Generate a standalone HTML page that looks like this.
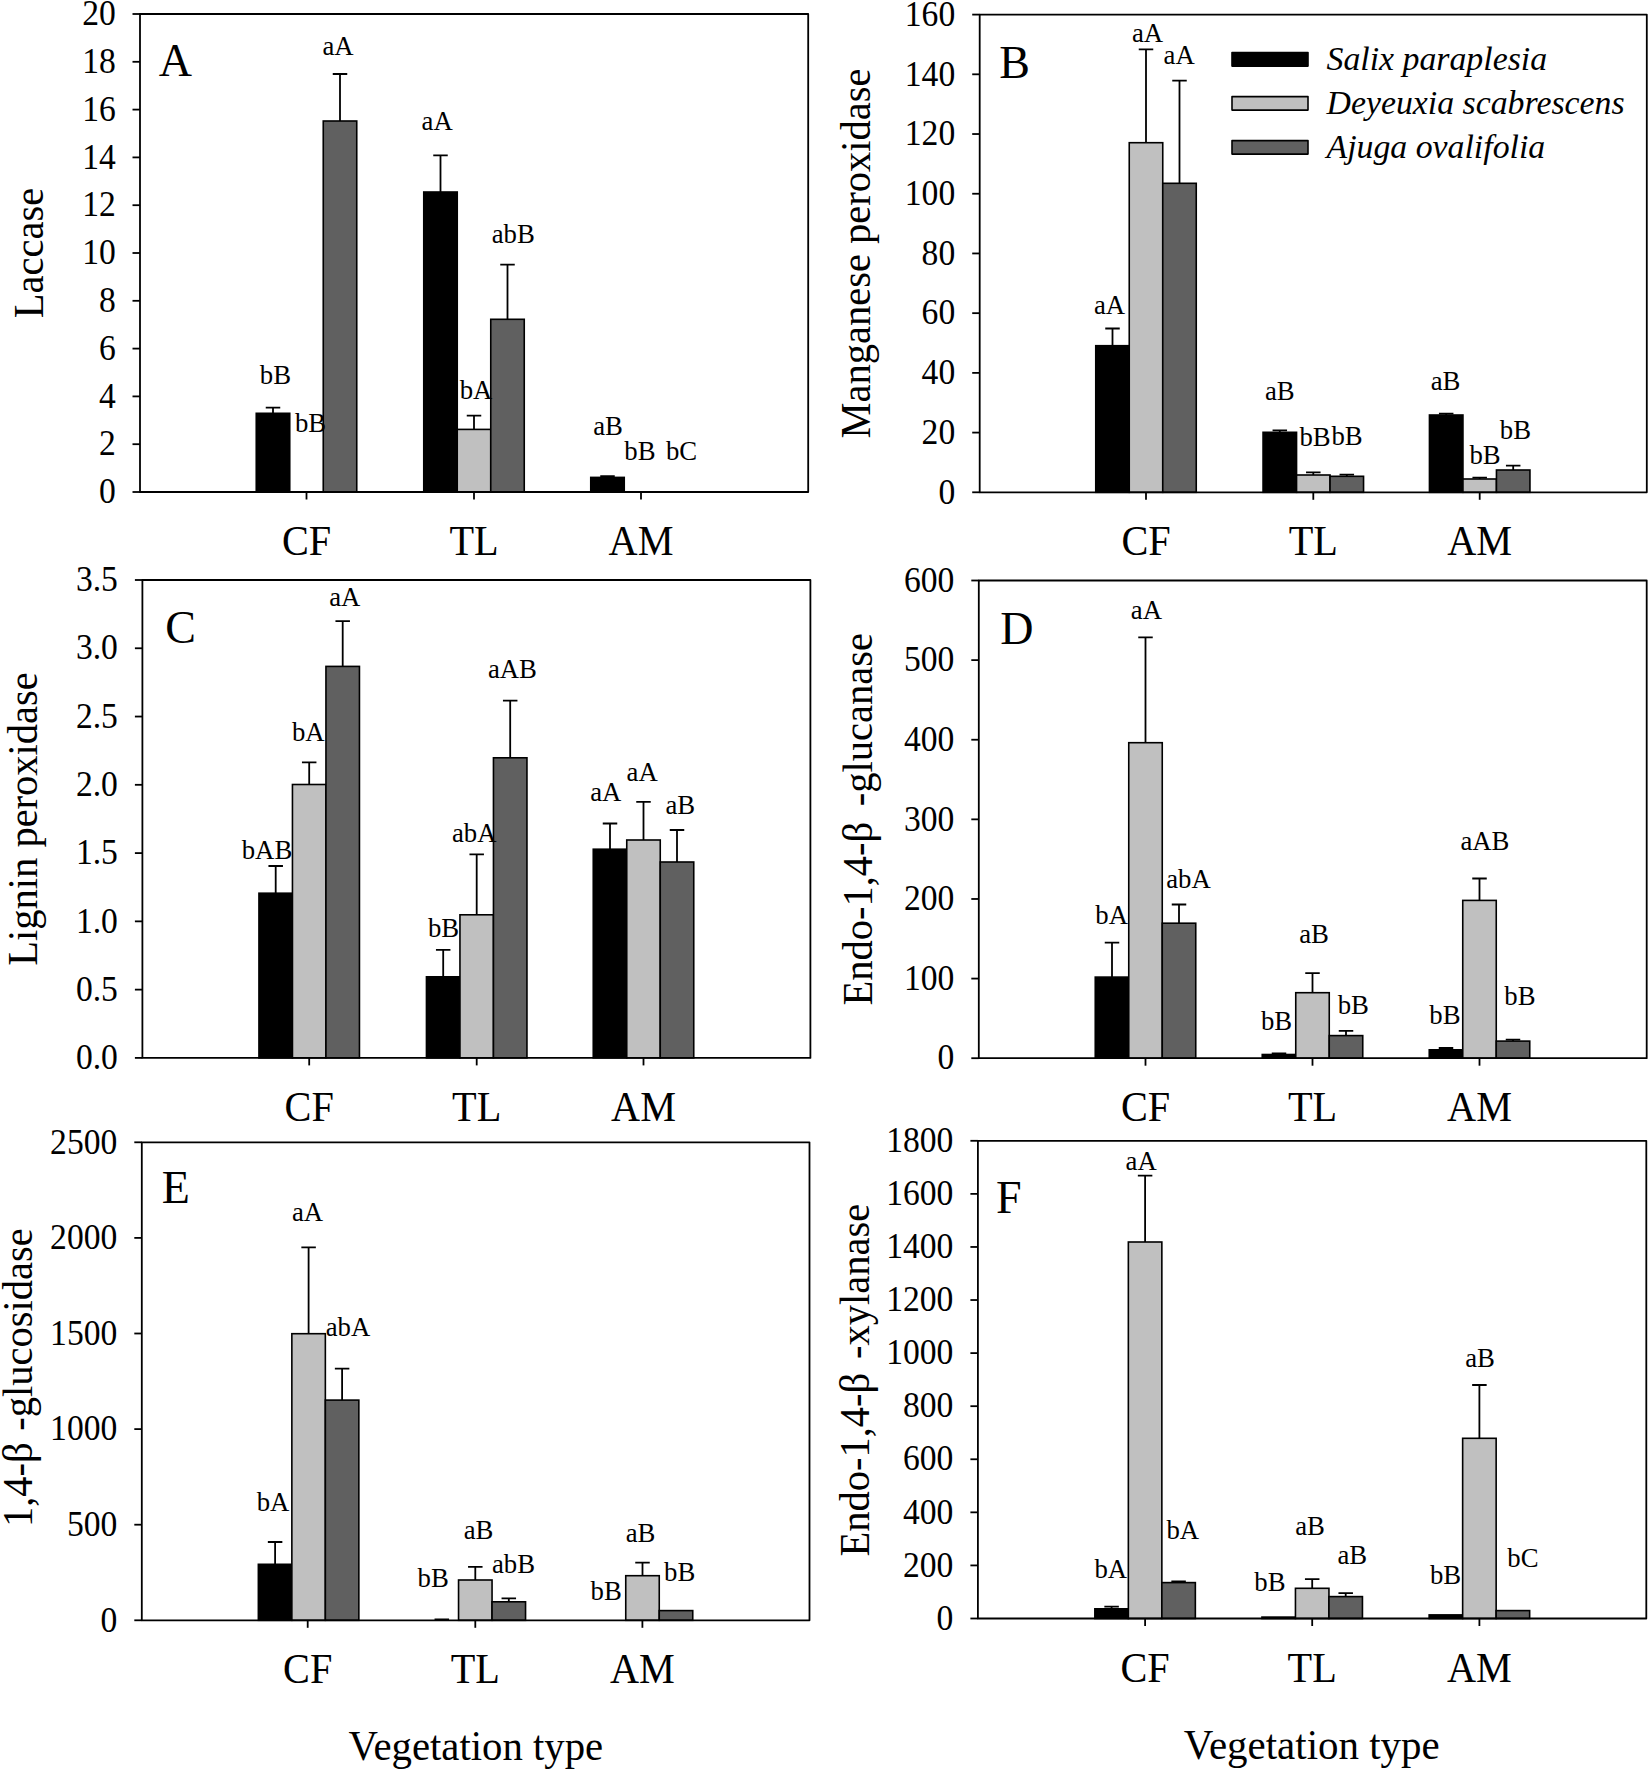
<!DOCTYPE html>
<html lang="en">
<head>
<meta charset="utf-8">
<title>Enzyme activities by vegetation type</title>
<style>
html,body{margin:0;padding:0;background:#fff;}
body{width:1650px;height:1771px;overflow:hidden;}
svg{display:block;}
svg text{font-family:"Liberation Serif",serif;fill:#000;}
</style>
</head>
<body>
<svg width="1650" height="1771" viewBox="0 0 1650 1771">
<rect x="0" y="0" width="1650" height="1771" fill="#fff"/>
<g id="panelA">
<path d="M273 413.3V407.7M265.75 407.7H280.25" stroke="#000" stroke-width="1.8" fill="none"/>
<rect x="256.25" y="413.3" width="33.5" height="78.7" fill="#000000" stroke="#000" stroke-width="1.6"/>
<path d="M340 121V74M332.75 74H347.25" stroke="#000" stroke-width="1.8" fill="none"/>
<rect x="323.25" y="121" width="33.5" height="371" fill="#606060" stroke="#000" stroke-width="1.6"/>
<path d="M440.5 192V155.3M433.25 155.3H447.75" stroke="#000" stroke-width="1.8" fill="none"/>
<rect x="423.75" y="192" width="33.5" height="300" fill="#000000" stroke="#000" stroke-width="1.6"/>
<path d="M474 429.4V415.6M466.75 415.6H481.25" stroke="#000" stroke-width="1.8" fill="none"/>
<rect x="457.25" y="429.4" width="33.5" height="62.6" fill="#c0c0c0" stroke="#000" stroke-width="1.6"/>
<path d="M507.5 319.3V264.7M500.25 264.7H514.75" stroke="#000" stroke-width="1.8" fill="none"/>
<rect x="490.75" y="319.3" width="33.5" height="172.7" fill="#606060" stroke="#000" stroke-width="1.6"/>
<path d="M607.5 477.4V476.2M600.25 476.2H614.75" stroke="#000" stroke-width="1.8" fill="none"/>
<rect x="590.75" y="477.4" width="33.5" height="14.6" fill="#000000" stroke="#000" stroke-width="1.6"/>
<rect x="140" y="14" width="668.2" height="478" fill="none" stroke="#000" stroke-width="1.8" stroke-linejoin="round"/>
<line x1="132.5" y1="492" x2="140" y2="492" stroke="#000" stroke-width="1.8"/>
<text transform="translate(115.8 503.2) scale(0.96 1)" font-size="35" text-anchor="end">0</text>
<line x1="132.5" y1="444.2" x2="140" y2="444.2" stroke="#000" stroke-width="1.8"/>
<text transform="translate(115.8 455.4) scale(0.96 1)" font-size="35" text-anchor="end">2</text>
<line x1="132.5" y1="396.4" x2="140" y2="396.4" stroke="#000" stroke-width="1.8"/>
<text transform="translate(115.8 407.6) scale(0.96 1)" font-size="35" text-anchor="end">4</text>
<line x1="132.5" y1="348.6" x2="140" y2="348.6" stroke="#000" stroke-width="1.8"/>
<text transform="translate(115.8 359.8) scale(0.96 1)" font-size="35" text-anchor="end">6</text>
<line x1="132.5" y1="300.8" x2="140" y2="300.8" stroke="#000" stroke-width="1.8"/>
<text transform="translate(115.8 312) scale(0.96 1)" font-size="35" text-anchor="end">8</text>
<line x1="132.5" y1="253" x2="140" y2="253" stroke="#000" stroke-width="1.8"/>
<text transform="translate(115.8 264.2) scale(0.96 1)" font-size="35" text-anchor="end">10</text>
<line x1="132.5" y1="205.2" x2="140" y2="205.2" stroke="#000" stroke-width="1.8"/>
<text transform="translate(115.8 216.4) scale(0.96 1)" font-size="35" text-anchor="end">12</text>
<line x1="132.5" y1="157.4" x2="140" y2="157.4" stroke="#000" stroke-width="1.8"/>
<text transform="translate(115.8 168.6) scale(0.96 1)" font-size="35" text-anchor="end">14</text>
<line x1="132.5" y1="109.6" x2="140" y2="109.6" stroke="#000" stroke-width="1.8"/>
<text transform="translate(115.8 120.8) scale(0.96 1)" font-size="35" text-anchor="end">16</text>
<line x1="132.5" y1="61.8" x2="140" y2="61.8" stroke="#000" stroke-width="1.8"/>
<text transform="translate(115.8 73) scale(0.96 1)" font-size="35" text-anchor="end">18</text>
<line x1="132.5" y1="14" x2="140" y2="14" stroke="#000" stroke-width="1.8"/>
<text transform="translate(115.8 25.2) scale(0.96 1)" font-size="35" text-anchor="end">20</text>
<line x1="306.5" y1="492" x2="306.5" y2="499.5" stroke="#000" stroke-width="1.8"/>
<text transform="translate(306.5 555) scale(0.968 1)" font-size="41.6" text-anchor="middle">CF</text>
<line x1="474" y1="492" x2="474" y2="499.5" stroke="#000" stroke-width="1.8"/>
<text transform="translate(474 555) scale(0.968 1)" font-size="41.6" text-anchor="middle">TL</text>
<line x1="641" y1="492" x2="641" y2="499.5" stroke="#000" stroke-width="1.8"/>
<text transform="translate(641 555) scale(0.968 1)" font-size="41.6" text-anchor="middle">AM</text>
<text transform="translate(43 253) rotate(-90) scale(1 1.03)" font-size="40.5" text-anchor="middle">Laccase</text>
<text x="158.7" y="76" font-size="46">A</text>
<text transform="translate(275.4 384.4) scale(0.99 1)" font-size="27" text-anchor="middle">bB</text>
<text transform="translate(310.6 431.7) scale(0.99 1)" font-size="27" text-anchor="middle">bB</text>
<text transform="translate(338 55.4) scale(0.99 1)" font-size="27" text-anchor="middle">aA</text>
<text transform="translate(437.2 130.4) scale(0.99 1)" font-size="27" text-anchor="middle">aA</text>
<text transform="translate(476 399.4) scale(0.99 1)" font-size="27" text-anchor="middle">bA</text>
<text transform="translate(513.2 243.1) scale(0.99 1)" font-size="27" text-anchor="middle">abB</text>
<text transform="translate(608 435.3) scale(0.99 1)" font-size="27" text-anchor="middle">aB</text>
<text transform="translate(639.9 459.5) scale(0.99 1)" font-size="27" text-anchor="middle">bB</text>
<text transform="translate(681.5 460) scale(0.99 1)" font-size="27" text-anchor="middle">bC</text>
</g>
<g id="panelB">
<path d="M1112.5 345.7V328.5M1105.25 328.5H1119.75" stroke="#000" stroke-width="1.8" fill="none"/>
<rect x="1095.75" y="345.7" width="33.5" height="146.6" fill="#000000" stroke="#000" stroke-width="1.6"/>
<path d="M1146 142.7V49.3M1138.75 49.3H1153.25" stroke="#000" stroke-width="1.8" fill="none"/>
<rect x="1129.25" y="142.7" width="33.5" height="349.6" fill="#c0c0c0" stroke="#000" stroke-width="1.6"/>
<path d="M1179.5 183.3V80.7M1172.25 80.7H1186.75" stroke="#000" stroke-width="1.8" fill="none"/>
<rect x="1162.75" y="183.3" width="33.5" height="309" fill="#606060" stroke="#000" stroke-width="1.6"/>
<path d="M1279.8 432.3V430.3M1272.55 430.3H1287.05" stroke="#000" stroke-width="1.8" fill="none"/>
<rect x="1263.05" y="432.3" width="33.5" height="60" fill="#000000" stroke="#000" stroke-width="1.6"/>
<path d="M1313.3 475V472.3M1306.05 472.3H1320.55" stroke="#000" stroke-width="1.8" fill="none"/>
<rect x="1296.55" y="475" width="33.5" height="17.3" fill="#c0c0c0" stroke="#000" stroke-width="1.6"/>
<path d="M1346.8 476.3V474.7M1339.55 474.7H1354.05" stroke="#000" stroke-width="1.8" fill="none"/>
<rect x="1330.05" y="476.3" width="33.5" height="16" fill="#606060" stroke="#000" stroke-width="1.6"/>
<path d="M1446.2 415V413.7M1438.95 413.7H1453.45" stroke="#000" stroke-width="1.8" fill="none"/>
<rect x="1429.45" y="415" width="33.5" height="77.3" fill="#000000" stroke="#000" stroke-width="1.6"/>
<path d="M1479.7 479V477.7M1472.45 477.7H1486.95" stroke="#000" stroke-width="1.8" fill="none"/>
<rect x="1462.95" y="479" width="33.5" height="13.3" fill="#c0c0c0" stroke="#000" stroke-width="1.6"/>
<path d="M1513.2 470V465.7M1505.95 465.7H1520.45" stroke="#000" stroke-width="1.8" fill="none"/>
<rect x="1496.45" y="470" width="33.5" height="22.3" fill="#606060" stroke="#000" stroke-width="1.6"/>
<rect x="979.7" y="14.6" width="667.1" height="477.7" fill="none" stroke="#000" stroke-width="1.8" stroke-linejoin="round"/>
<line x1="972.2" y1="492.3" x2="979.7" y2="492.3" stroke="#000" stroke-width="1.8"/>
<text transform="translate(955.2 503.5) scale(0.96 1)" font-size="35" text-anchor="end">0</text>
<line x1="972.2" y1="432.59" x2="979.7" y2="432.59" stroke="#000" stroke-width="1.8"/>
<text transform="translate(955.2 443.79) scale(0.96 1)" font-size="35" text-anchor="end">20</text>
<line x1="972.2" y1="372.88" x2="979.7" y2="372.88" stroke="#000" stroke-width="1.8"/>
<text transform="translate(955.2 384.07) scale(0.96 1)" font-size="35" text-anchor="end">40</text>
<line x1="972.2" y1="313.16" x2="979.7" y2="313.16" stroke="#000" stroke-width="1.8"/>
<text transform="translate(955.2 324.36) scale(0.96 1)" font-size="35" text-anchor="end">60</text>
<line x1="972.2" y1="253.45" x2="979.7" y2="253.45" stroke="#000" stroke-width="1.8"/>
<text transform="translate(955.2 264.65) scale(0.96 1)" font-size="35" text-anchor="end">80</text>
<line x1="972.2" y1="193.74" x2="979.7" y2="193.74" stroke="#000" stroke-width="1.8"/>
<text transform="translate(955.2 204.94) scale(0.96 1)" font-size="35" text-anchor="end">100</text>
<line x1="972.2" y1="134.03" x2="979.7" y2="134.03" stroke="#000" stroke-width="1.8"/>
<text transform="translate(955.2 145.23) scale(0.96 1)" font-size="35" text-anchor="end">120</text>
<line x1="972.2" y1="74.31" x2="979.7" y2="74.31" stroke="#000" stroke-width="1.8"/>
<text transform="translate(955.2 85.51) scale(0.96 1)" font-size="35" text-anchor="end">140</text>
<line x1="972.2" y1="14.6" x2="979.7" y2="14.6" stroke="#000" stroke-width="1.8"/>
<text transform="translate(955.2 25.8) scale(0.96 1)" font-size="35" text-anchor="end">160</text>
<line x1="1146" y1="492.3" x2="1146" y2="499.8" stroke="#000" stroke-width="1.8"/>
<text transform="translate(1146 555) scale(0.968 1)" font-size="41.6" text-anchor="middle">CF</text>
<line x1="1313.3" y1="492.3" x2="1313.3" y2="499.8" stroke="#000" stroke-width="1.8"/>
<text transform="translate(1313.3 555) scale(0.968 1)" font-size="41.6" text-anchor="middle">TL</text>
<line x1="1479.7" y1="492.3" x2="1479.7" y2="499.8" stroke="#000" stroke-width="1.8"/>
<text transform="translate(1479.7 555) scale(0.968 1)" font-size="41.6" text-anchor="middle">AM</text>
<text transform="translate(869.5 253.45) rotate(-90) scale(1 1.03)" font-size="40.5" text-anchor="middle">Manganese peroxidase</text>
<text x="999.3" y="77.9" font-size="46">B</text>
<text transform="translate(1109.5 314.4) scale(0.99 1)" font-size="27" text-anchor="middle">aA</text>
<text transform="translate(1147.5 42.1) scale(0.99 1)" font-size="27" text-anchor="middle">aA</text>
<text transform="translate(1179.2 63.7) scale(0.99 1)" font-size="27" text-anchor="middle">aA</text>
<text transform="translate(1279.8 399.6) scale(0.99 1)" font-size="27" text-anchor="middle">aB</text>
<text transform="translate(1315 445.9) scale(0.99 1)" font-size="27" text-anchor="middle">bB</text>
<text transform="translate(1347 444.9) scale(0.99 1)" font-size="27" text-anchor="middle">bB</text>
<text transform="translate(1445.5 389.7) scale(0.99 1)" font-size="27" text-anchor="middle">aB</text>
<text transform="translate(1485 463.7) scale(0.99 1)" font-size="27" text-anchor="middle">bB</text>
<text transform="translate(1515.4 438.7) scale(0.99 1)" font-size="27" text-anchor="middle">bB</text>
</g>
<g id="panelC">
<path d="M275.7 893.2V866M268.45 866H282.95" stroke="#000" stroke-width="1.8" fill="none"/>
<rect x="258.95" y="893.2" width="33.5" height="164.7" fill="#000000" stroke="#000" stroke-width="1.6"/>
<path d="M309.2 784.5V762.3M301.95 762.3H316.45" stroke="#000" stroke-width="1.8" fill="none"/>
<rect x="292.45" y="784.5" width="33.5" height="273.4" fill="#c0c0c0" stroke="#000" stroke-width="1.6"/>
<path d="M342.7 666.4V621.1M335.45 621.1H349.95" stroke="#000" stroke-width="1.8" fill="none"/>
<rect x="325.95" y="666.4" width="33.5" height="391.5" fill="#606060" stroke="#000" stroke-width="1.6"/>
<path d="M443.2 976.8V949.8M435.95 949.8H450.45" stroke="#000" stroke-width="1.8" fill="none"/>
<rect x="426.45" y="976.8" width="33.5" height="81.1" fill="#000000" stroke="#000" stroke-width="1.6"/>
<path d="M476.7 914.8V854.3M469.45 854.3H483.95" stroke="#000" stroke-width="1.8" fill="none"/>
<rect x="459.95" y="914.8" width="33.5" height="143.1" fill="#c0c0c0" stroke="#000" stroke-width="1.6"/>
<path d="M510.2 757.8V700.6M502.95 700.6H517.45" stroke="#000" stroke-width="1.8" fill="none"/>
<rect x="493.45" y="757.8" width="33.5" height="300.1" fill="#606060" stroke="#000" stroke-width="1.6"/>
<path d="M610 849.2V823.5M602.75 823.5H617.25" stroke="#000" stroke-width="1.8" fill="none"/>
<rect x="593.25" y="849.2" width="33.5" height="208.7" fill="#000000" stroke="#000" stroke-width="1.6"/>
<path d="M643.5 840V801.8M636.25 801.8H650.75" stroke="#000" stroke-width="1.8" fill="none"/>
<rect x="626.75" y="840" width="33.5" height="217.9" fill="#c0c0c0" stroke="#000" stroke-width="1.6"/>
<path d="M677 862V830M669.75 830H684.25" stroke="#000" stroke-width="1.8" fill="none"/>
<rect x="660.25" y="862" width="33.5" height="195.9" fill="#606060" stroke="#000" stroke-width="1.6"/>
<rect x="142.4" y="580" width="668" height="477.9" fill="none" stroke="#000" stroke-width="1.8" stroke-linejoin="round"/>
<line x1="134.9" y1="1057.9" x2="142.4" y2="1057.9" stroke="#000" stroke-width="1.8"/>
<text transform="translate(117.9 1069.1) scale(0.96 1)" font-size="35" text-anchor="end">0.0</text>
<line x1="134.9" y1="989.63" x2="142.4" y2="989.63" stroke="#000" stroke-width="1.8"/>
<text transform="translate(117.9 1000.83) scale(0.96 1)" font-size="35" text-anchor="end">0.5</text>
<line x1="134.9" y1="921.36" x2="142.4" y2="921.36" stroke="#000" stroke-width="1.8"/>
<text transform="translate(117.9 932.56) scale(0.96 1)" font-size="35" text-anchor="end">1.0</text>
<line x1="134.9" y1="853.09" x2="142.4" y2="853.09" stroke="#000" stroke-width="1.8"/>
<text transform="translate(117.9 864.29) scale(0.96 1)" font-size="35" text-anchor="end">1.5</text>
<line x1="134.9" y1="784.81" x2="142.4" y2="784.81" stroke="#000" stroke-width="1.8"/>
<text transform="translate(117.9 796.01) scale(0.96 1)" font-size="35" text-anchor="end">2.0</text>
<line x1="134.9" y1="716.54" x2="142.4" y2="716.54" stroke="#000" stroke-width="1.8"/>
<text transform="translate(117.9 727.74) scale(0.96 1)" font-size="35" text-anchor="end">2.5</text>
<line x1="134.9" y1="648.27" x2="142.4" y2="648.27" stroke="#000" stroke-width="1.8"/>
<text transform="translate(117.9 659.47) scale(0.96 1)" font-size="35" text-anchor="end">3.0</text>
<line x1="134.9" y1="580" x2="142.4" y2="580" stroke="#000" stroke-width="1.8"/>
<text transform="translate(117.9 591.2) scale(0.96 1)" font-size="35" text-anchor="end">3.5</text>
<line x1="309.2" y1="1057.9" x2="309.2" y2="1065.4" stroke="#000" stroke-width="1.8"/>
<text transform="translate(309.2 1121) scale(0.968 1)" font-size="41.6" text-anchor="middle">CF</text>
<line x1="476.7" y1="1057.9" x2="476.7" y2="1065.4" stroke="#000" stroke-width="1.8"/>
<text transform="translate(476.7 1121) scale(0.968 1)" font-size="41.6" text-anchor="middle">TL</text>
<line x1="643.5" y1="1057.9" x2="643.5" y2="1065.4" stroke="#000" stroke-width="1.8"/>
<text transform="translate(643.5 1121) scale(0.968 1)" font-size="41.6" text-anchor="middle">AM</text>
<text transform="translate(37.2 818.95) rotate(-90) scale(1 1.03)" font-size="40.5" text-anchor="middle">Lignin peroxidase</text>
<text x="165.2" y="643.2" font-size="46">C</text>
<text transform="translate(267 858.7) scale(0.99 1)" font-size="27" text-anchor="middle">bAB</text>
<text transform="translate(308.2 740.8) scale(0.99 1)" font-size="27" text-anchor="middle">bA</text>
<text transform="translate(344.8 605.7) scale(0.99 1)" font-size="27" text-anchor="middle">aA</text>
<text transform="translate(443.5 936.6) scale(0.99 1)" font-size="27" text-anchor="middle">bB</text>
<text transform="translate(474.2 842.4) scale(0.99 1)" font-size="27" text-anchor="middle">abA</text>
<text transform="translate(512.4 677.8) scale(0.99 1)" font-size="27" text-anchor="middle">aAB</text>
<text transform="translate(605.8 801.4) scale(0.99 1)" font-size="27" text-anchor="middle">aA</text>
<text transform="translate(642.1 781.2) scale(0.99 1)" font-size="27" text-anchor="middle">aA</text>
<text transform="translate(680.3 814.4) scale(0.99 1)" font-size="27" text-anchor="middle">aB</text>
</g>
<g id="panelD">
<path d="M1112 977.1V942.6M1104.75 942.6H1119.25" stroke="#000" stroke-width="1.8" fill="none"/>
<rect x="1095.25" y="977.1" width="33.5" height="81.1" fill="#000000" stroke="#000" stroke-width="1.6"/>
<path d="M1145.5 742.7V637.3M1138.25 637.3H1152.75" stroke="#000" stroke-width="1.8" fill="none"/>
<rect x="1128.75" y="742.7" width="33.5" height="315.5" fill="#c0c0c0" stroke="#000" stroke-width="1.6"/>
<path d="M1179 923.2V904.5M1171.75 904.5H1186.25" stroke="#000" stroke-width="1.8" fill="none"/>
<rect x="1162.25" y="923.2" width="33.5" height="135" fill="#606060" stroke="#000" stroke-width="1.6"/>
<path d="M1279 1054.5V1053.5M1271.75 1053.5H1286.25" stroke="#000" stroke-width="1.8" fill="none"/>
<rect x="1262.25" y="1054.5" width="33.5" height="3.7" fill="#000000" stroke="#000" stroke-width="1.6"/>
<path d="M1312.5 992.7V973.1M1305.25 973.1H1319.75" stroke="#000" stroke-width="1.8" fill="none"/>
<rect x="1295.75" y="992.7" width="33.5" height="65.5" fill="#c0c0c0" stroke="#000" stroke-width="1.6"/>
<path d="M1346 1035.6V1030.9M1338.75 1030.9H1353.25" stroke="#000" stroke-width="1.8" fill="none"/>
<rect x="1329.25" y="1035.6" width="33.5" height="22.6" fill="#606060" stroke="#000" stroke-width="1.6"/>
<path d="M1446 1049.8V1048M1438.75 1048H1453.25" stroke="#000" stroke-width="1.8" fill="none"/>
<rect x="1429.25" y="1049.8" width="33.5" height="8.4" fill="#000000" stroke="#000" stroke-width="1.6"/>
<path d="M1479.5 900.4V878.5M1472.25 878.5H1486.75" stroke="#000" stroke-width="1.8" fill="none"/>
<rect x="1462.75" y="900.4" width="33.5" height="157.8" fill="#c0c0c0" stroke="#000" stroke-width="1.6"/>
<path d="M1513 1041.1V1039.6M1505.75 1039.6H1520.25" stroke="#000" stroke-width="1.8" fill="none"/>
<rect x="1496.25" y="1041.1" width="33.5" height="17.1" fill="#606060" stroke="#000" stroke-width="1.6"/>
<rect x="978.8" y="580.5" width="667.9" height="477.7" fill="none" stroke="#000" stroke-width="1.8" stroke-linejoin="round"/>
<line x1="971.3" y1="1058.2" x2="978.8" y2="1058.2" stroke="#000" stroke-width="1.8"/>
<text transform="translate(954.3 1069.4) scale(0.96 1)" font-size="35" text-anchor="end">0</text>
<line x1="971.3" y1="978.58" x2="978.8" y2="978.58" stroke="#000" stroke-width="1.8"/>
<text transform="translate(954.3 989.78) scale(0.96 1)" font-size="35" text-anchor="end">100</text>
<line x1="971.3" y1="898.97" x2="978.8" y2="898.97" stroke="#000" stroke-width="1.8"/>
<text transform="translate(954.3 910.17) scale(0.96 1)" font-size="35" text-anchor="end">200</text>
<line x1="971.3" y1="819.35" x2="978.8" y2="819.35" stroke="#000" stroke-width="1.8"/>
<text transform="translate(954.3 830.55) scale(0.96 1)" font-size="35" text-anchor="end">300</text>
<line x1="971.3" y1="739.73" x2="978.8" y2="739.73" stroke="#000" stroke-width="1.8"/>
<text transform="translate(954.3 750.93) scale(0.96 1)" font-size="35" text-anchor="end">400</text>
<line x1="971.3" y1="660.12" x2="978.8" y2="660.12" stroke="#000" stroke-width="1.8"/>
<text transform="translate(954.3 671.32) scale(0.96 1)" font-size="35" text-anchor="end">500</text>
<line x1="971.3" y1="580.5" x2="978.8" y2="580.5" stroke="#000" stroke-width="1.8"/>
<text transform="translate(954.3 591.7) scale(0.96 1)" font-size="35" text-anchor="end">600</text>
<line x1="1145.5" y1="1058.2" x2="1145.5" y2="1065.7" stroke="#000" stroke-width="1.8"/>
<text transform="translate(1145.5 1120.7) scale(0.968 1)" font-size="41.6" text-anchor="middle">CF</text>
<line x1="1312.5" y1="1058.2" x2="1312.5" y2="1065.7" stroke="#000" stroke-width="1.8"/>
<text transform="translate(1312.5 1120.7) scale(0.968 1)" font-size="41.6" text-anchor="middle">TL</text>
<line x1="1479.5" y1="1058.2" x2="1479.5" y2="1065.7" stroke="#000" stroke-width="1.8"/>
<text transform="translate(1479.5 1120.7) scale(0.968 1)" font-size="41.6" text-anchor="middle">AM</text>
<text transform="translate(871.5 819.35) rotate(-90) scale(1 1.03)" font-size="40.5" text-anchor="middle">Endo-1,4-β<tspan dx="5.5"> -</tspan>glucanase</text>
<text x="1000.3" y="643.5" font-size="46">D</text>
<text transform="translate(1111.6 924.2) scale(0.99 1)" font-size="27" text-anchor="middle">bA</text>
<text transform="translate(1146.4 619.1) scale(0.99 1)" font-size="27" text-anchor="middle">aA</text>
<text transform="translate(1188.5 888.4) scale(0.99 1)" font-size="27" text-anchor="middle">abA</text>
<text transform="translate(1276.5 1029.5) scale(0.99 1)" font-size="27" text-anchor="middle">bB</text>
<text transform="translate(1314 943) scale(0.99 1)" font-size="27" text-anchor="middle">aB</text>
<text transform="translate(1353.3 1013.9) scale(0.99 1)" font-size="27" text-anchor="middle">bB</text>
<text transform="translate(1444.9 1024) scale(0.99 1)" font-size="27" text-anchor="middle">bB</text>
<text transform="translate(1484.9 850.2) scale(0.99 1)" font-size="27" text-anchor="middle">aAB</text>
<text transform="translate(1519.9 1004.8) scale(0.99 1)" font-size="27" text-anchor="middle">bB</text>
</g>
<g id="panelE">
<path d="M275.1 1564.3V1542M267.85 1542H282.35" stroke="#000" stroke-width="1.8" fill="none"/>
<rect x="258.35" y="1564.3" width="33.5" height="56" fill="#000000" stroke="#000" stroke-width="1.6"/>
<path d="M308.6 1333.7V1247.3M301.35 1247.3H315.85" stroke="#000" stroke-width="1.8" fill="none"/>
<rect x="291.85" y="1333.7" width="33.5" height="286.6" fill="#c0c0c0" stroke="#000" stroke-width="1.6"/>
<path d="M342.1 1400.1V1368.7M334.85 1368.7H349.35" stroke="#000" stroke-width="1.8" fill="none"/>
<rect x="325.35" y="1400.1" width="33.5" height="220.2" fill="#606060" stroke="#000" stroke-width="1.6"/>
<path d="M441.8 1620.3V1619.3M434.55 1619.3H449.05" stroke="#000" stroke-width="1.8" fill="none"/>
<rect x="425.05" y="1620.3" width="33.5" height="0" fill="#000000" stroke="#000" stroke-width="1.6"/>
<path d="M475.3 1580V1566.9M468.05 1566.9H482.55" stroke="#000" stroke-width="1.8" fill="none"/>
<rect x="458.55" y="1580" width="33.5" height="40.3" fill="#c0c0c0" stroke="#000" stroke-width="1.6"/>
<path d="M508.8 1601.8V1598.3M501.55 1598.3H516.05" stroke="#000" stroke-width="1.8" fill="none"/>
<rect x="492.05" y="1601.8" width="33.5" height="18.5" fill="#606060" stroke="#000" stroke-width="1.6"/>
<path d="M642.5 1575.7V1562.6M635.25 1562.6H649.75" stroke="#000" stroke-width="1.8" fill="none"/>
<rect x="625.75" y="1575.7" width="33.5" height="44.6" fill="#c0c0c0" stroke="#000" stroke-width="1.6"/>
<rect x="659.25" y="1610.6" width="33.5" height="9.7" fill="#606060" stroke="#000" stroke-width="1.6"/>
<rect x="141.8" y="1142.3" width="667.7" height="478" fill="none" stroke="#000" stroke-width="1.8" stroke-linejoin="round"/>
<line x1="134.3" y1="1620.3" x2="141.8" y2="1620.3" stroke="#000" stroke-width="1.8"/>
<text transform="translate(117.3 1631.5) scale(0.96 1)" font-size="35" text-anchor="end">0</text>
<line x1="134.3" y1="1524.7" x2="141.8" y2="1524.7" stroke="#000" stroke-width="1.8"/>
<text transform="translate(117.3 1535.9) scale(0.96 1)" font-size="35" text-anchor="end">500</text>
<line x1="134.3" y1="1429.1" x2="141.8" y2="1429.1" stroke="#000" stroke-width="1.8"/>
<text transform="translate(117.3 1440.3) scale(0.96 1)" font-size="35" text-anchor="end">1000</text>
<line x1="134.3" y1="1333.5" x2="141.8" y2="1333.5" stroke="#000" stroke-width="1.8"/>
<text transform="translate(117.3 1344.7) scale(0.96 1)" font-size="35" text-anchor="end">1500</text>
<line x1="134.3" y1="1237.9" x2="141.8" y2="1237.9" stroke="#000" stroke-width="1.8"/>
<text transform="translate(117.3 1249.1) scale(0.96 1)" font-size="35" text-anchor="end">2000</text>
<line x1="134.3" y1="1142.3" x2="141.8" y2="1142.3" stroke="#000" stroke-width="1.8"/>
<text transform="translate(117.3 1153.5) scale(0.96 1)" font-size="35" text-anchor="end">2500</text>
<line x1="307.7" y1="1620.3" x2="307.7" y2="1627.8" stroke="#000" stroke-width="1.8"/>
<text transform="translate(307.7 1683.4) scale(0.968 1)" font-size="41.6" text-anchor="middle">CF</text>
<line x1="475.3" y1="1620.3" x2="475.3" y2="1627.8" stroke="#000" stroke-width="1.8"/>
<text transform="translate(475.3 1683.4) scale(0.968 1)" font-size="41.6" text-anchor="middle">TL</text>
<line x1="642.4" y1="1620.3" x2="642.4" y2="1627.8" stroke="#000" stroke-width="1.8"/>
<text transform="translate(642.4 1683.4) scale(0.968 1)" font-size="41.6" text-anchor="middle">AM</text>
<text transform="translate(31.7 1377.7) rotate(-90) scale(1 1.03)" font-size="40.5" text-anchor="middle">1,4-β<tspan dx="1.5"> -</tspan>glucosidase</text>
<text x="161.8" y="1203.3" font-size="46">E</text>
<text transform="translate(273 1511.4) scale(0.99 1)" font-size="27" text-anchor="middle">bA</text>
<text transform="translate(307.5 1221.1) scale(0.99 1)" font-size="27" text-anchor="middle">aA</text>
<text transform="translate(348 1336.4) scale(0.99 1)" font-size="27" text-anchor="middle">abA</text>
<text transform="translate(433.2 1587.4) scale(0.99 1)" font-size="27" text-anchor="middle">bB</text>
<text transform="translate(478.5 1539) scale(0.99 1)" font-size="27" text-anchor="middle">aB</text>
<text transform="translate(513.5 1573) scale(0.99 1)" font-size="27" text-anchor="middle">abB</text>
<text transform="translate(606.2 1600.1) scale(0.99 1)" font-size="27" text-anchor="middle">bB</text>
<text transform="translate(640.5 1541.6) scale(0.99 1)" font-size="27" text-anchor="middle">aB</text>
<text transform="translate(679.7 1581.3) scale(0.99 1)" font-size="27" text-anchor="middle">bB</text>
</g>
<g id="panelF">
<path d="M1111.6 1608.8V1606.6M1104.35 1606.6H1118.85" stroke="#000" stroke-width="1.8" fill="none"/>
<rect x="1094.85" y="1608.8" width="33.5" height="9.7" fill="#000000" stroke="#000" stroke-width="1.6"/>
<path d="M1145.1 1242V1175.7M1137.85 1175.7H1152.35" stroke="#000" stroke-width="1.8" fill="none"/>
<rect x="1128.35" y="1242" width="33.5" height="376.5" fill="#c0c0c0" stroke="#000" stroke-width="1.6"/>
<path d="M1178.6 1582.6V1581.3M1171.35 1581.3H1185.85" stroke="#000" stroke-width="1.8" fill="none"/>
<rect x="1161.85" y="1582.6" width="33.5" height="35.9" fill="#606060" stroke="#000" stroke-width="1.6"/>
<rect x="1261.95" y="1617.1" width="33.5" height="1.4" fill="#000000" stroke="#000" stroke-width="1.6"/>
<path d="M1312.2 1588.3V1579.1M1304.95 1579.1H1319.45" stroke="#000" stroke-width="1.8" fill="none"/>
<rect x="1295.45" y="1588.3" width="33.5" height="30.2" fill="#c0c0c0" stroke="#000" stroke-width="1.6"/>
<path d="M1345.7 1596.6V1593.1M1338.45 1593.1H1352.95" stroke="#000" stroke-width="1.8" fill="none"/>
<rect x="1328.95" y="1596.6" width="33.5" height="21.9" fill="#606060" stroke="#000" stroke-width="1.6"/>
<rect x="1429.15" y="1614.9" width="33.5" height="3.6" fill="#000000" stroke="#000" stroke-width="1.6"/>
<path d="M1479.4 1438.3V1385M1472.15 1385H1486.65" stroke="#000" stroke-width="1.8" fill="none"/>
<rect x="1462.65" y="1438.3" width="33.5" height="180.2" fill="#c0c0c0" stroke="#000" stroke-width="1.6"/>
<rect x="1496.15" y="1610.6" width="33.5" height="7.9" fill="#606060" stroke="#000" stroke-width="1.6"/>
<rect x="977.9" y="1140.8" width="668.4" height="477.7" fill="none" stroke="#000" stroke-width="1.8" stroke-linejoin="round"/>
<line x1="970.4" y1="1618.5" x2="977.9" y2="1618.5" stroke="#000" stroke-width="1.8"/>
<text transform="translate(953.4 1629.7) scale(0.96 1)" font-size="35" text-anchor="end">0</text>
<line x1="970.4" y1="1565.42" x2="977.9" y2="1565.42" stroke="#000" stroke-width="1.8"/>
<text transform="translate(953.4 1576.62) scale(0.96 1)" font-size="35" text-anchor="end">200</text>
<line x1="970.4" y1="1512.34" x2="977.9" y2="1512.34" stroke="#000" stroke-width="1.8"/>
<text transform="translate(953.4 1523.54) scale(0.96 1)" font-size="35" text-anchor="end">400</text>
<line x1="970.4" y1="1459.27" x2="977.9" y2="1459.27" stroke="#000" stroke-width="1.8"/>
<text transform="translate(953.4 1470.47) scale(0.96 1)" font-size="35" text-anchor="end">600</text>
<line x1="970.4" y1="1406.19" x2="977.9" y2="1406.19" stroke="#000" stroke-width="1.8"/>
<text transform="translate(953.4 1417.39) scale(0.96 1)" font-size="35" text-anchor="end">800</text>
<line x1="970.4" y1="1353.11" x2="977.9" y2="1353.11" stroke="#000" stroke-width="1.8"/>
<text transform="translate(953.4 1364.31) scale(0.96 1)" font-size="35" text-anchor="end">1000</text>
<line x1="970.4" y1="1300.03" x2="977.9" y2="1300.03" stroke="#000" stroke-width="1.8"/>
<text transform="translate(953.4 1311.23) scale(0.96 1)" font-size="35" text-anchor="end">1200</text>
<line x1="970.4" y1="1246.96" x2="977.9" y2="1246.96" stroke="#000" stroke-width="1.8"/>
<text transform="translate(953.4 1258.16) scale(0.96 1)" font-size="35" text-anchor="end">1400</text>
<line x1="970.4" y1="1193.88" x2="977.9" y2="1193.88" stroke="#000" stroke-width="1.8"/>
<text transform="translate(953.4 1205.08) scale(0.96 1)" font-size="35" text-anchor="end">1600</text>
<line x1="970.4" y1="1140.8" x2="977.9" y2="1140.8" stroke="#000" stroke-width="1.8"/>
<text transform="translate(953.4 1152) scale(0.96 1)" font-size="35" text-anchor="end">1800</text>
<line x1="1145.1" y1="1618.5" x2="1145.1" y2="1626" stroke="#000" stroke-width="1.8"/>
<text transform="translate(1145.1 1681.8) scale(0.968 1)" font-size="41.6" text-anchor="middle">CF</text>
<line x1="1312.2" y1="1618.5" x2="1312.2" y2="1626" stroke="#000" stroke-width="1.8"/>
<text transform="translate(1312.2 1681.8) scale(0.968 1)" font-size="41.6" text-anchor="middle">TL</text>
<line x1="1479.4" y1="1618.5" x2="1479.4" y2="1626" stroke="#000" stroke-width="1.8"/>
<text transform="translate(1479.4 1681.8) scale(0.968 1)" font-size="41.6" text-anchor="middle">AM</text>
<text transform="translate(868.5 1380.15) rotate(-90) scale(1 1.03)" font-size="40.5" text-anchor="middle">Endo-1,4-β<tspan dx="3.7"> -</tspan>xylanase</text>
<text x="996" y="1212.5" font-size="46">F</text>
<text transform="translate(1110.7 1577.8) scale(0.99 1)" font-size="27" text-anchor="middle">bA</text>
<text transform="translate(1141.2 1169.9) scale(0.99 1)" font-size="27" text-anchor="middle">aA</text>
<text transform="translate(1182.7 1539.4) scale(0.99 1)" font-size="27" text-anchor="middle">bA</text>
<text transform="translate(1269.9 1590.7) scale(0.99 1)" font-size="27" text-anchor="middle">bB</text>
<text transform="translate(1310.1 1534.9) scale(0.99 1)" font-size="27" text-anchor="middle">aB</text>
<text transform="translate(1352.3 1563.9) scale(0.99 1)" font-size="27" text-anchor="middle">aB</text>
<text transform="translate(1445.5 1583.9) scale(0.99 1)" font-size="27" text-anchor="middle">bB</text>
<text transform="translate(1480 1367.1) scale(0.99 1)" font-size="27" text-anchor="middle">aB</text>
<text transform="translate(1522.9 1567) scale(0.99 1)" font-size="27" text-anchor="middle">bC</text>
</g>
<g id="legend">
<rect x="1232" y="52.6" width="76" height="13.5" fill="#000000" stroke="#000" stroke-width="1.6" stroke-linejoin="round"/>
<text x="1326.5" y="70" font-size="33.8" font-style="italic">Salix paraplesia</text>
<rect x="1232" y="96.6" width="76" height="13.5" fill="#c0c0c0" stroke="#000" stroke-width="1.6" stroke-linejoin="round"/>
<text x="1326.5" y="114" font-size="33.8" font-style="italic">Deyeuxia scabrescens</text>
<rect x="1232" y="140.6" width="76" height="13.5" fill="#606060" stroke="#000" stroke-width="1.6" stroke-linejoin="round"/>
<text x="1326.5" y="157.5" font-size="33.8" font-style="italic">Ajuga ovalifolia</text>
</g>
<text transform="translate(475.9 1759.5) scale(0.98 1)" font-size="41.6" text-anchor="middle">Vegetation type</text>
<text transform="translate(1311.8 1758.7) scale(0.985 1)" font-size="41.6" text-anchor="middle">Vegetation type</text>
</svg>
</body>
</html>
